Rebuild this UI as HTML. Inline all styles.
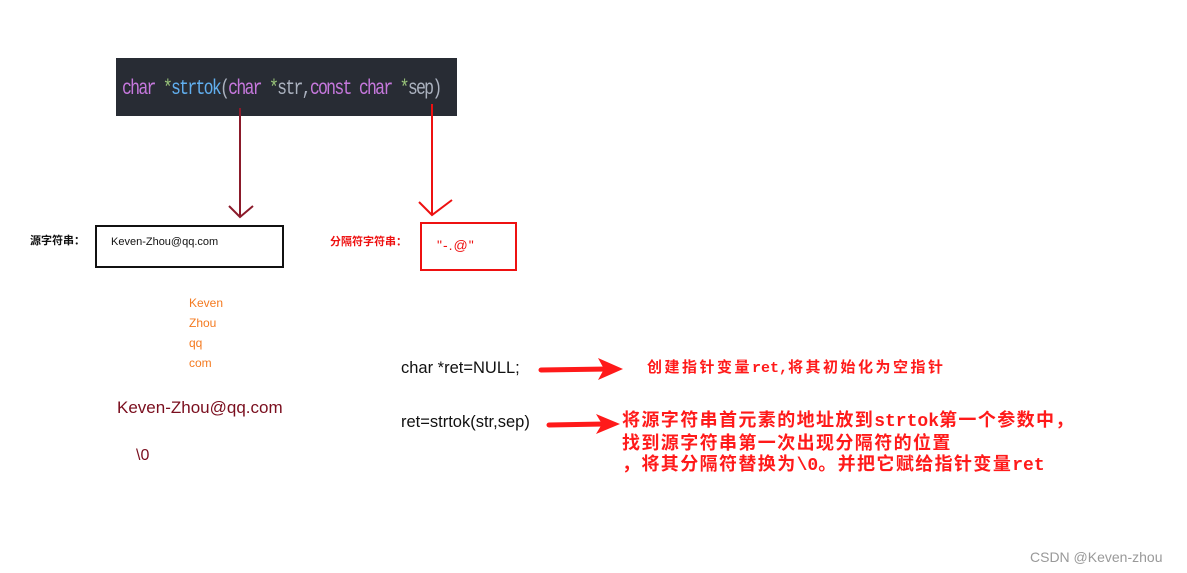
<!DOCTYPE html>
<html><head><meta charset="utf-8"><style>
body{margin:0;width:1187px;height:573px;background:#fff;position:relative;overflow:hidden;font-family:"Liberation Sans","Noto Sans CJK SC",sans-serif}
.a{position:absolute;white-space:nowrap;line-height:1}
.m{font-family:"Liberation Mono","DejaVu Sans Mono",monospace;letter-spacing:0}
</style></head><body>
<div style="position:absolute;left:116px;top:58px;width:341px;height:58px;background:#282c34"></div>
<div class="a" style="left:122px;top:79px;font-family:'Liberation Mono','DejaVu Sans Mono',monospace;font-size:21px;letter-spacing:-2.2px;transform:scaleX(0.785);transform-origin:left;color:#c678dd">char <span style="color:#98c379">*</span><span style="color:#61afef">strtok</span><span style="color:#abb2bf">(</span>char <span style="color:#98c379">*</span><span style="color:#abb2bf">str,</span>const char <span style="color:#98c379">*</span><span style="color:#abb2bf">sep)</span></div>
<svg width="1187" height="573" style="position:absolute;left:0;top:0">
<line x1="240" y1="108" x2="240" y2="216" stroke="#8b1a2a" stroke-width="2"/>
<path d="M229 206 L240 217 L253 206" fill="none" stroke="#8b1a2a" stroke-width="2"/>
<line x1="432" y1="104" x2="432" y2="214" stroke="#ee1111" stroke-width="2"/>
<path d="M419 202 L432 215 L452 200" fill="none" stroke="#ee1111" stroke-width="2"/>
<rect x="96" y="226" width="187" height="41" fill="none" stroke="#111" stroke-width="2"/>
<rect x="421" y="223" width="95" height="47" fill="none" stroke="#ee1111" stroke-width="2"/>
<line x1="541" y1="370" x2="608" y2="369" stroke="#ff1a1a" stroke-width="5" stroke-linecap="round"/>
<path d="M598 358 L623 369 L598 380 L604 369Z" fill="#ff1a1a"/>
<line x1="549" y1="425" x2="604" y2="424" stroke="#ff1a1a" stroke-width="5" stroke-linecap="round"/>
<path d="M596 414 L620 424 L596 434 L602 424Z" fill="#ff1a1a"/>
</svg>
<div class="a" style="left:30px;top:236px;font-size:11px;font-weight:bold;color:#111">源字符串：</div>
<div class="a" style="left:111px;top:237px;font-size:11px;color:#111">Keven-Zhou@qq.com</div>
<div class="a" style="left:330px;top:237px;font-size:11px;font-weight:bold;color:#ee1111">分隔符字符串：</div>
<div class="a" style="left:437px;top:238px;font-size:14px;color:#ee1111;letter-spacing:1px">"-.@"</div>
<div class="a" style="left:189px;top:293px;font-size:12px;color:#f47a20;line-height:20px">Keven<br>Zhou<br>qq<br>com</div>
<div class="a" style="left:117px;top:399px;font-size:17px;color:#7a0e1e">Keven-Zhou@qq.com</div>
<div class="a" style="left:136px;top:448px;font-size:16px;color:#7a0e1e">\0</div>
<div class="a" style="left:401px;top:360px;font-size:16.5px;color:#111">char *ret=NULL;</div>
<div class="a" style="left:401px;top:414px;font-size:16.5px;color:#111">ret=strtok(str,sep)</div>
<div class="a" style="left:647px;top:360px;font-size:15px;font-weight:bold;color:#ff1a1a;letter-spacing:2.5px">创建指针变量<span class="m">ret,</span>将其初始化为空指针</div>
<div class="a" style="left:622px;top:410px;font-size:18px;font-weight:bold;color:#ff1a1a;line-height:21px;letter-spacing:1.4px">将源字符串首元素的地址放到<span class="m">strtok</span>第一个参数中，<br>找到源字符串第一次出现分隔符的位置<br>，将其分隔符替换为<span class="m">\0</span>。并把它赋给指针变量<span class="m">ret</span></div>
<div class="a" style="left:1030px;top:550px;font-size:14px;color:#999">CSDN @Keven-zhou</div>
</body></html>
